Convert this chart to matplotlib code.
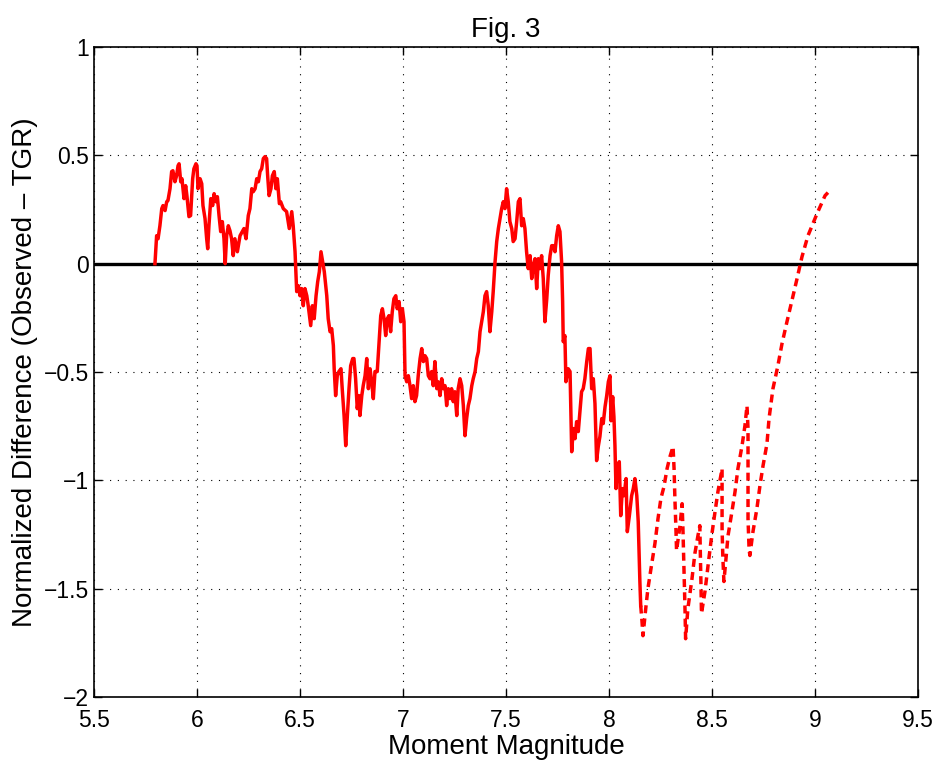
import matplotlib
matplotlib.use("Agg")
import matplotlib.pyplot as plt
import numpy as np

plt.rcParams['font.family'] = ['Liberation Sans', 'DejaVu Sans']

# Solid part of the curve (magnitude, normalized difference)
solid_mag = [5.796, 5.804, 5.811, 5.820, 5.829, 5.835, 5.845, 5.853, 5.859, 5.869, 5.877, 5.883, 5.893, 5.901,
             5.908, 5.913, 5.921, 5.927, 5.937, 5.945, 5.951, 5.961, 5.969, 5.979, 5.985, 5.995, 6.000, 6.005,
             6.015, 6.023, 6.029, 6.039, 6.047, 6.052, 6.058, 6.067, 6.076, 6.083, 6.091, 6.099, 6.107, 6.115,
             6.123, 6.131, 6.137, 6.144, 6.152, 6.160, 6.168, 6.176, 6.184, 6.196, 6.209, 6.220, 6.228, 6.238,
             6.249, 6.257, 6.266, 6.273, 6.282, 6.290, 6.298, 6.306, 6.314, 6.322, 6.330, 6.338, 6.343, 6.350,
             6.359, 6.366, 6.375, 6.383, 6.390, 6.400, 6.406, 6.419, 6.435, 6.448, 6.460, 6.467, 6.476, 6.484,
             6.492, 6.500, 6.508, 6.516, 6.524, 6.533, 6.540, 6.552, 6.560, 6.569, 6.578, 6.586, 6.594, 6.602,
             6.610, 6.618, 6.630, 6.637, 6.646, 6.654, 6.662, 6.666, 6.673, 6.681, 6.689, 6.699, 6.705, 6.714,
             6.722, 6.730, 6.738, 6.746, 6.756, 6.762, 6.770, 6.778, 6.786, 6.791, 6.800, 6.807, 6.816, 6.824,
             6.832, 6.840, 6.848, 6.856, 6.864, 6.875, 6.883, 6.892, 6.900, 6.908, 6.916, 6.924, 6.932, 6.940,
             6.948, 6.956, 6.965, 6.972, 6.981, 6.989, 6.997, 7.005, 7.010, 7.018, 7.026, 7.034, 7.042, 7.050,
             7.058, 7.066, 7.074, 7.083, 7.091, 7.099, 7.107, 7.115, 7.123, 7.131, 7.139, 7.147, 7.155, 7.164,
             7.171, 7.180, 7.188, 7.196, 7.204, 7.212, 7.220, 7.228, 7.236, 7.244, 7.252, 7.261, 7.268, 7.277,
             7.285, 7.293, 7.301, 7.309, 7.317, 7.325, 7.334, 7.341, 7.350, 7.358, 7.366, 7.374, 7.382, 7.390,
             7.398, 7.406, 7.414, 7.422, 7.431, 7.438, 7.447, 7.455, 7.463, 7.471, 7.479, 7.487, 7.495, 7.503,
             7.511, 7.519, 7.528, 7.535, 7.544, 7.552, 7.560, 7.568, 7.576, 7.584, 7.592, 7.600, 7.608, 7.617,
             7.625, 7.633, 7.641, 7.649, 7.657, 7.665, 7.673, 7.681, 7.689, 7.698, 7.705, 7.714, 7.722, 7.730,
             7.738, 7.746, 7.754, 7.762, 7.770, 7.775, 7.778, 7.786, 7.791, 7.802, 7.811, 7.816, 7.819, 7.827,
             7.835, 7.843, 7.851, 7.859, 7.867, 7.875, 7.883, 7.892, 7.900, 7.908, 7.916, 7.924, 7.932, 7.940,
             7.948, 7.956, 7.965, 7.972, 7.981, 7.989, 7.997, 8.005, 8.010, 8.018, 8.024, 8.029, 8.034, 8.040,
             8.050, 8.057, 8.065, 8.073, 8.083, 8.089, 8.099, 8.110, 8.118, 8.126, 8.135, 8.142, 8.150, 8.154]
solid_diff = [0.000, 0.129, 0.115, 0.175, 0.254, 0.268, 0.245, 0.286, 0.291, 0.346, 0.425, 0.429, 0.378, 0.406,
              0.452, 0.461, 0.378, 0.392, 0.300, 0.360, 0.314, 0.217, 0.222, 0.392, 0.438, 0.461, 0.452, 0.346,
              0.392, 0.369, 0.268, 0.208, 0.115, 0.069, 0.175, 0.300, 0.268, 0.323, 0.286, 0.309, 0.222, 0.148,
              0.194, 0.115, 0.000, 0.129, 0.175, 0.152, 0.115, 0.037, 0.115, 0.055, 0.129, 0.148, 0.162, 0.115,
              0.222, 0.254, 0.346, 0.332, 0.346, 0.392, 0.378, 0.425, 0.438, 0.485, 0.494, 0.485, 0.406, 0.314,
              0.346, 0.406, 0.425, 0.346, 0.392, 0.277, 0.286, 0.254, 0.240, 0.162, 0.240, 0.175, 0.055, -0.129,
              -0.102, -0.148, -0.115, -0.194, -0.115, -0.148, -0.194, -0.286, -0.194, -0.254, -0.148, -0.083, -0.037, 0.055,
              0.009, -0.037, -0.148, -0.254, -0.314, -0.300, -0.378, -0.485, -0.609, -0.517, -0.498, -0.485, -0.577, -0.701,
              -0.840, -0.701, -0.577, -0.471, -0.438, -0.438, -0.531, -0.669, -0.609, -0.701, -0.609, -0.563, -0.517, -0.438,
              -0.577, -0.485, -0.545, -0.623, -0.498, -0.498, -0.378, -0.240, -0.208, -0.254, -0.332, -0.254, -0.240, -0.314,
              -0.222, -0.162, -0.148, -0.208, -0.175, -0.268, -0.208, -0.268, -0.517, -0.545, -0.517, -0.563, -0.623, -0.563,
              -0.637, -0.609, -0.517, -0.438, -0.392, -0.452, -0.425, -0.438, -0.517, -0.531, -0.498, -0.563, -0.452, -0.577,
              -0.545, -0.609, -0.531, -0.577, -0.563, -0.655, -0.577, -0.623, -0.577, -0.637, -0.591, -0.701, -0.577, -0.531,
              -0.563, -0.655, -0.794, -0.715, -0.655, -0.623, -0.563, -0.531, -0.498, -0.438, -0.406, -0.314, -0.268, -0.222,
              -0.148, -0.129, -0.194, -0.314, -0.222, -0.129, 0.009, 0.102, 0.162, 0.208, 0.254, 0.286, 0.254, 0.346,
              0.286, 0.194, 0.162, 0.102, 0.115, 0.194, 0.286, 0.300, 0.175, 0.208, 0.162, 0.055, -0.023, 0.037,
              -0.069, -0.009, 0.023, -0.115, 0.023, -0.023, 0.037, -0.069, -0.268, -0.162, -0.055, 0.037, 0.083, 0.083,
              0.055, 0.129, 0.175, 0.148, 0.009, -0.175, -0.360, -0.332, -0.545, -0.485, -0.498, -0.715, -0.868, -0.761,
              -0.808, -0.729, -0.775, -0.683, -0.591, -0.577, -0.531, -0.452, -0.392, -0.392, -0.577, -0.531, -0.646, -0.909,
              -0.844, -0.798, -0.715, -0.738, -0.660, -0.609, -0.545, -0.517, -0.725, -0.614, -0.706, -0.840, -1.038, -0.946,
              -0.914, -1.163, -1.038, -1.071, -0.992, -1.237, -1.163, -1.071, -1.038, -0.992, -1.071, -1.191, -1.467, -1.578]

# Dashed part (few events, large magnitudes)
dashed_mag = [8.154, 8.160, 8.165, 8.180, 8.189, 8.204, 8.223, 8.238, 8.252, 8.267, 8.282, 8.296, 8.311, 8.316,
              8.320, 8.325, 8.328, 8.345, 8.355, 8.359, 8.364, 8.369, 8.372, 8.383, 8.403, 8.417, 8.432, 8.441,
              8.444, 8.447, 8.449, 8.466, 8.485, 8.500, 8.515, 8.529, 8.549, 8.549, 8.549, 8.553, 8.558, 8.578,
              8.597, 8.612, 8.626, 8.646, 8.660, 8.670, 8.675, 8.675, 8.675, 8.675, 8.680, 8.684, 8.699, 8.718,
              8.733, 8.748, 8.767, 8.777, 8.796, 8.820, 8.840, 8.864, 8.888, 8.913, 8.937, 8.966, 9.010, 9.049, 9.063]
dashed_diff = [-1.578, -1.647, -1.717, -1.578, -1.500, -1.407, -1.292, -1.177, -1.084, -1.029, -0.946, -0.891, -0.844, -0.946,
               -1.084, -1.223, -1.324, -1.209, -1.108, -1.223, -1.407, -1.592, -1.731, -1.592, -1.454, -1.338, -1.255, -1.209,
               -1.361, -1.499, -1.615, -1.513, -1.361, -1.246, -1.144, -1.052, -0.946, -1.084, -1.223, -1.361, -1.467, -1.255,
               -1.144, -1.052, -0.946, -0.840, -0.748, -0.656, -0.762, -0.900, -1.038, -1.177, -1.315, -1.347, -1.237, -1.131,
               -1.024, -0.932, -0.831, -0.715, -0.577, -0.471, -0.369, -0.268, -0.171, -0.069, 0.032, 0.129, 0.231, 0.314, 0.328]

xticks = [5.5, 6, 6.5, 7, 7.5, 8, 8.5, 9, 9.5]
yticks = [-2, -1.5, -1, -0.5, 0, 0.5, 1]

fig = plt.figure(figsize=(9.39, 7.64), dpi=100)
ax = fig.add_axes([0.1001, 0.0877, 0.8775, 0.8508])

ax.axhline(0, color='black', lw=2.4, zorder=2)
ax.plot(solid_mag, solid_diff, color='#ff0000', lw=2.5, zorder=3, solid_joinstyle='round')
ax.plot(dashed_mag, dashed_diff, color='#ff0000', lw=2.5, zorder=3, dashes=(2.3, 1.5))

ax.set_xlim(5.5, 9.5)
ax.set_ylim(-2, 1)
ax.set_xticks(xticks)
ax.set_yticks(yticks)
ax.set_xticklabels(['5.5', '6', '6.5', '7', '7.5', '8', '8.5', '9', '9.5'])
ax.set_yticklabels(['\u22122', '\u22121.5', '\u22121', '\u22120.5', '0', '0.5', '1'])
ax.grid(True, color='black', linestyle=(0, (1, 6)), linewidth=0.8)
ax.tick_params(direction='in', top=True, right=True, length=6, width=1, labelsize=16.5)
ax.tick_params(axis='x', pad=9)
for s in ax.spines.values():
    s.set_linewidth(1.2)

ax.set_xlabel('Moment Magnitude', fontsize=20, labelpad=1)
ax.set_ylabel('Normalized Difference (Observed \u2013 TGR)', fontsize=20, labelpad=4)
ax.set_title('Fig. 3', fontsize=20, pad=7)

fig.savefig('out.png', dpi=100)
